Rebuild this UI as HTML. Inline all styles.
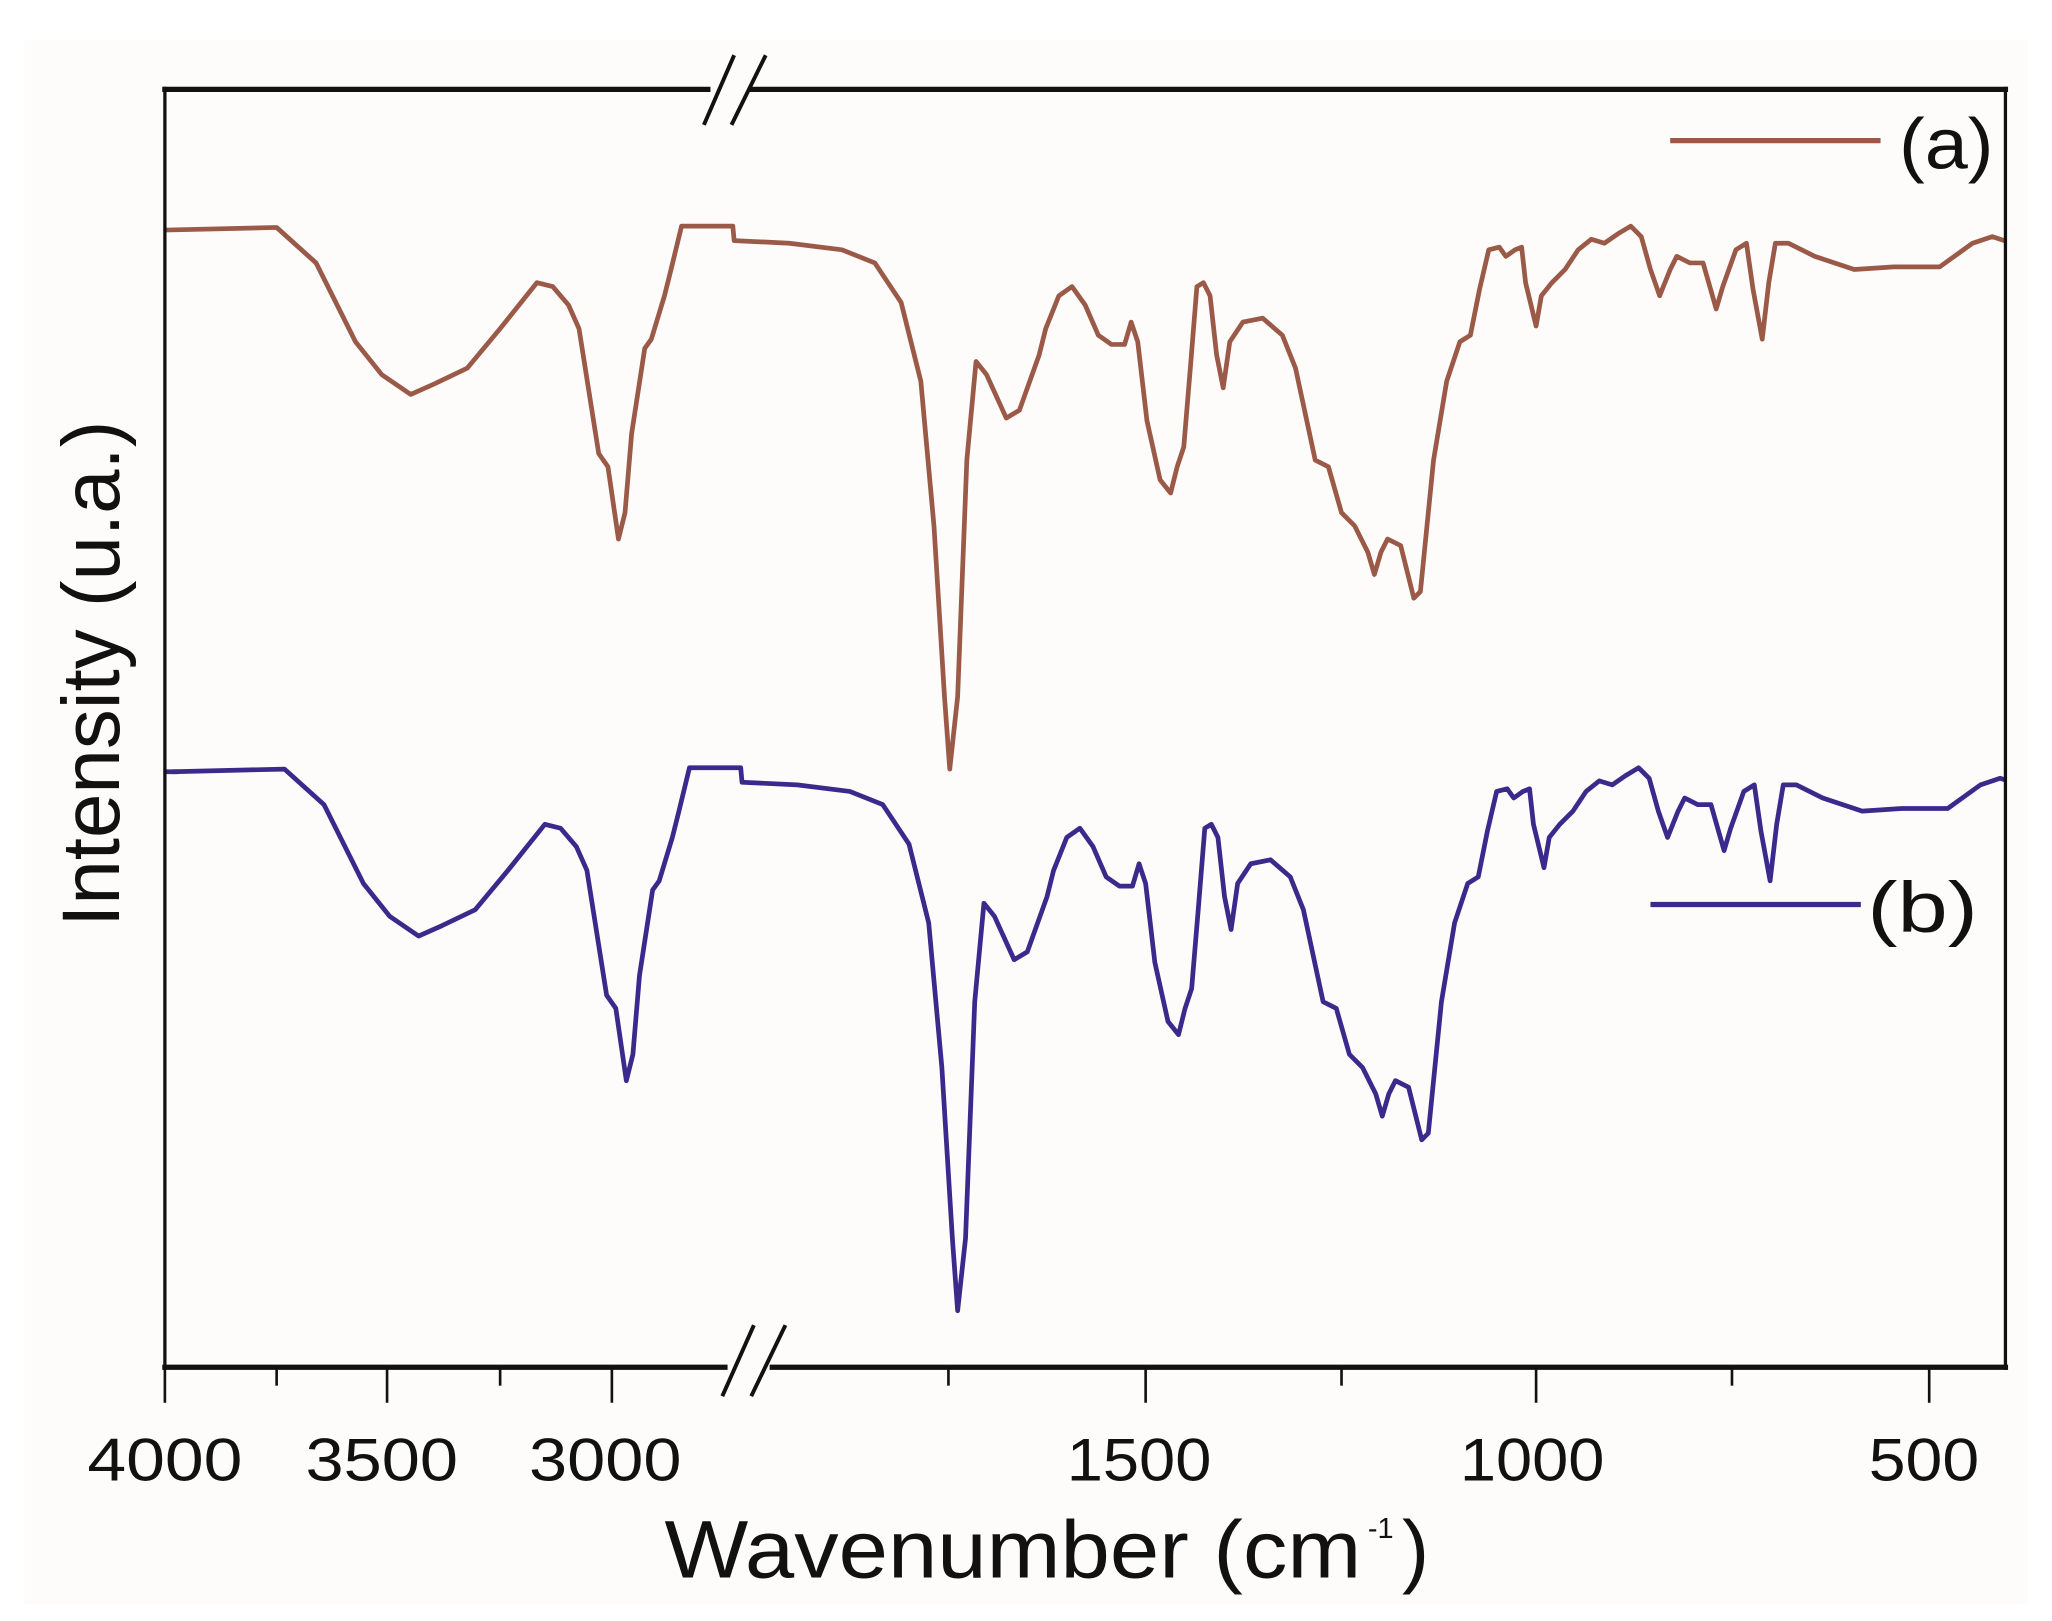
<!DOCTYPE html>
<html><head><meta charset="utf-8"><style>
html,body{margin:0;padding:0;background:#fff;}
svg{display:block;}
</style></head><body>
<svg width="2052" height="1621" viewBox="0 0 1560 1233" xmlns="http://www.w3.org/2000/svg">
<rect x="0" y="0" width="1560" height="1233" fill="#fff"/>
<rect x="18" y="30" width="1524" height="1190" fill="#fdfcfb"/>
<defs>
<clipPath id="pc"><rect x="125" y="68" width="1400" height="972"/></clipPath>
<path id="sp" d="M125,175 L210,173 L240,200 L270,260 L290,285 L312,300 L330,292 L355,280 L380,250 L408,215 L420,218 L432,232 L440,250 L455,345 L462,355 L470,410 L475,390 L480,330 L490,265 L495,258 L505,225 L510,205 L518,172 L557,172 L558,183 L600,185 L640,190 L665,200 L685,230 L700,290 L710,400 L718,530 L722,585 L728,530 L735,350 L742,275 L750,285 L765,318 L775,312 L790,270 L795,250 L805,225 L815,218 L825,232 L835,255 L845,262 L855,262 L860,245 L865,260 L872,320 L882,365 L890,375 L895,355 L900,340 L905,280 L910,218 L915,215 L920,225 L925,270 L930,295 L935,260 L945,245 L960,242 L975,255 L985,280 L1000,350 L1010,355 L1020,390 L1030,400 L1040,420 L1045,437 L1050,420 L1055,410 L1065,415 L1075,455 L1080,450 L1090,350 L1100,290 L1110,260 L1118,255 L1125,220 L1132,190 L1140,188 L1145,195 L1152,190 L1157,188 L1160,215 L1168,248 L1172,225 L1180,215 L1190,205 L1200,190 L1210,182 L1220,185 L1230,178 L1240,172 L1248,180 L1255,205 L1262,225 L1270,205 L1275,195 L1285,200 L1295,200 L1305,235 L1310,218 L1320,190 L1328,185 L1333,220 L1340,258 L1345,215 L1350,185 L1360,185 L1380,195 L1410,205 L1440,203 L1475,203 L1500,185 L1515,180 L1530,185"/>
</defs>
<g clip-path="url(#pc)" fill="none" stroke-width="3.6" stroke-linejoin="round" stroke-linecap="round">
<use href="#sp" stroke="#9b5a48"/>
<use href="#sp" stroke="#3a2a8c" transform="translate(6,412)"/>
<line x1="125" y1="587" x2="135" y2="587" stroke="#3a2a8c"/>
</g>
<g stroke="#111" fill="none">
<line x1="123" y1="68" x2="1527" y2="68" stroke-width="4"/>
<line x1="123" y1="1040" x2="1527" y2="1040" stroke-width="4"/>
<line x1="125" y1="66" x2="125" y2="1042" stroke-width="2.5"/>
<line x1="1525" y1="66" x2="1525" y2="1042" stroke-width="2.5"/>
<g stroke-width="2">
<line x1="125" y1="1040" x2="125" y2="1067"/>
<line x1="294" y1="1040" x2="294" y2="1067"/>
<line x1="465" y1="1040" x2="465" y2="1067"/>
<line x1="871" y1="1040" x2="871" y2="1067"/>
<line x1="1168" y1="1040" x2="1168" y2="1067"/>
<line x1="1467" y1="1040" x2="1467" y2="1067"/>
<line x1="210" y1="1040" x2="210" y2="1054"/>
<line x1="380" y1="1040" x2="380" y2="1054"/>
<line x1="721" y1="1040" x2="721" y2="1054"/>
<line x1="1020" y1="1040" x2="1020" y2="1054"/>
<line x1="1317" y1="1040" x2="1317" y2="1054"/>
</g>
</g>
<rect x="540" y="60" width="30" height="16" fill="#fdfcfb"/>
<rect x="553" y="1032" width="32" height="16" fill="#fdfcfb"/>
<g stroke="#111" stroke-width="3">
<line x1="535" y1="95" x2="558" y2="42"/>
<line x1="556" y1="95" x2="582" y2="42"/>
<line x1="549" y1="1062" x2="573" y2="1008"/>
<line x1="571" y1="1062" x2="597" y2="1008"/>
</g>
<g font-family="Liberation Sans, sans-serif" font-size="46" fill="#111" text-anchor="middle">
<text x="125" y="1126" textLength="118" lengthAdjust="spacingAndGlyphs">4000</text>
<text x="290" y="1126" textLength="116" lengthAdjust="spacingAndGlyphs">3500</text>
<text x="460" y="1126" textLength="116" lengthAdjust="spacingAndGlyphs">3000</text>
<text x="866" y="1126" textLength="110" lengthAdjust="spacingAndGlyphs">1500</text>
<text x="1165" y="1126" textLength="110" lengthAdjust="spacingAndGlyphs">1000</text>
<text x="1463" y="1126" textLength="84" lengthAdjust="spacingAndGlyphs">500</text>
</g>
<text x="505" y="1200" font-family="Liberation Sans, sans-serif" font-size="62" fill="#111" textLength="530" lengthAdjust="spacingAndGlyphs">Wavenumber (cm</text>
<text x="1040" y="1170" font-family="Liberation Sans, sans-serif" font-size="22" fill="#111">-1</text>
<text x="1066" y="1200" font-family="Liberation Sans, sans-serif" font-size="62" fill="#111">)</text>
<text transform="translate(90,705) rotate(-90)" font-family="Liberation Sans, sans-serif" font-size="62" fill="#111" textLength="385" lengthAdjust="spacingAndGlyphs">Intensity (u.a.)</text>
<line x1="1270" y1="107" x2="1430" y2="107" stroke="#9b5a48" stroke-width="4"/>
<text x="1444" y="128" font-family="Liberation Sans, sans-serif" font-size="54" fill="#111" textLength="72" lengthAdjust="spacingAndGlyphs">(a)</text>
<line x1="1255" y1="688" x2="1415" y2="688" stroke="#3a2a8c" stroke-width="4"/>
<text x="1420" y="709" font-family="Liberation Sans, sans-serif" font-size="54" fill="#111" textLength="84" lengthAdjust="spacingAndGlyphs">(b)</text>
</svg>
</body></html>
